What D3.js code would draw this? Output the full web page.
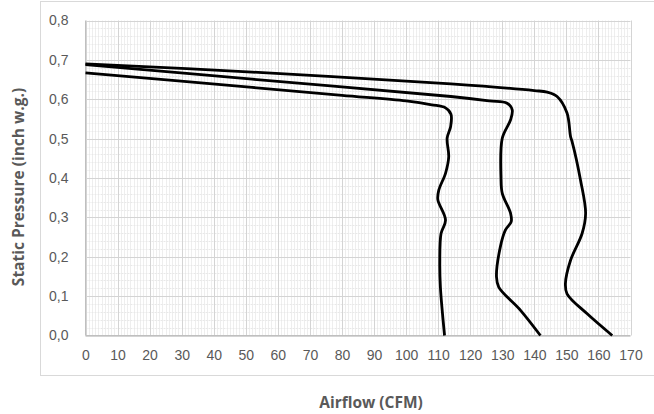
<!DOCTYPE html>
<meta charset="utf-8">
<head>
<script src="https://d3js.org/d3.v7.min.js"></script>
<style>
  body { margin: 0; background: #fff; }
  .tick text { font-family: "Liberation Sans", Arial, sans-serif; font-size: 14px; fill: #595959; }
  .title { font-family: "Open Sans", sans-serif; font-weight: bold; font-size: 15.5px; fill: #595959; }
</style>
</head>
<body>
<div class="viz"></div>
<script>
  // curve data: [airflow CFM, static pressure]
  var curveLow = [[0,0.667],[52,0.630],[80,0.610],[100,0.596],[108,0.586],[112.3,0.578],[114,0.562],[113.9,0.531],[112.8,0.501],[113.3,0.454],[112.3,0.412],[110.2,0.369],[109.9,0.345],[112.3,0.293],[110.9,0.259],[110.5,0.183],[110.7,0.123],[112,0]];
  var curveMid = [[0,0.688],[52,0.651],[114,0.607],[126,0.596],[131.5,0.590],[133.1,0.573],[132.6,0.548],[130,0.501],[129.6,0.40],[130,0.361],[132.6,0.310],[132.8,0.289],[131,0.268],[129.4,0.225],[128.2,0.149],[128.9,0.123],[135.7,0.064],[141.9,0]];
  var curveHigh = [[0,0.690],[52,0.669],[114,0.639],[140,0.622],[144,0.618],[147.1,0.607],[150.2,0.565],[151.3,0.505],[151.8,0.492],[154.4,0.395],[156,0.31],[154.9,0.259],[151.3,0.191],[149.7,0.132],[150.2,0.106],[156.5,0.055],[164.3,0]];
  var xTicks = d3.range(0, 171, 10);
  var yTicks = d3.range(0, 0.81, 0.1);

  var width = 654, height = 414;
  var x = d3.scaleLinear().domain([0, 170]).range([85.5, 630.5]);
  var y = d3.scaleLinear().domain([0, 0.8]).range([335.5, 20.5]);

  var svg = d3.select("div.viz").append("svg")
    .attr("width", width)
    .attr("height", height);

  // chart frame (runs past the right edge)
  svg.append("rect")
    .attr("x", 40.5).attr("y", 1.5)
    .attr("width", 620).attr("height", 374)
    .attr("fill", "none").attr("stroke", "#d9d9d9");

  // minor grid
  svg.append("g").selectAll("line")
    .data(d3.range(1, 170).filter(function(d) { return d % 10 != 0; }))
    .enter().append("line")
    .attr("x1", function(d) { return Math.round(x(d)) + 0.5; })
    .attr("x2", function(d) { return Math.round(x(d)) + 0.5; })
    .attr("y1", y(0.8)).attr("y2", y(0))
    .attr("stroke", "#eeeeee");
  svg.append("g").selectAll("line")
    .data(d3.range(1, 40).filter(function(d) { return d % 5 != 0; }))
    .enter().append("line")
    .attr("x1", x(0)).attr("x2", x(170))
    .attr("y1", function(d) { return Math.round(y(d * 0.02)) + 0.5; })
    .attr("y2", function(d) { return Math.round(y(d * 0.02)) + 0.5; })
    .attr("stroke", "#e8e8e8")
    .attr("stroke-dasharray", "2,1");

  // major grid
  svg.append("g").selectAll("line")
    .data(xTicks)
    .enter().append("line")
    .attr("x1", function(d) { return Math.round(x(d)) + 0.5; })
    .attr("x2", function(d) { return Math.round(x(d)) + 0.5; })
    .attr("y1", y(0.8)).attr("y2", y(0))
    .attr("stroke", "#d4d4d4");
  svg.append("g").selectAll("line")
    .data(yTicks)
    .enter().append("line")
    .attr("x1", x(0)).attr("x2", x(170))
    .attr("y1", function(d) { return Math.round(y(d)) + 0.5; })
    .attr("y2", function(d) { return Math.round(y(d)) + 0.5; })
    .attr("stroke", "#d4d4d4");

  // axes (labels only)
  var xAxis = svg.append("g")
    .attr("transform", "translate(0," + (y(0) + 8) + ")")
    .call(d3.axisBottom(x).tickValues(xTicks).tickSize(0).tickFormat(d3.format("d")));
  xAxis.select(".domain").remove();
  xAxis.selectAll("text").attr("dy", "0.95em");

  var yAxis = svg.append("g")
    .attr("transform", "translate(" + (x(0) - 14) + ",0)")
    .call(d3.axisLeft(y).tickValues(yTicks).tickSize(0)
      .tickFormat(function(d) { return d.toFixed(1).replace(".", ","); }));
  yAxis.select(".domain").remove();

  svg.append("line")
    .attr("x1", x(0)).attr("x2", x(170))
    .attr("y1", y(0)).attr("y2", y(0))
    .attr("stroke", "#bfbfbf");
  svg.append("line")
    .attr("x1", x(0)).attr("x2", x(0))
    .attr("y1", y(0.8)).attr("y2", y(0))
    .attr("stroke", "#bfbfbf");

  // curves
  var line = d3.line()
    .x(function(d) { return x(d[0]); })
    .y(function(d) { return y(d[1]); })
    .curve(d3.curveCatmullRom.alpha(0.5));

  [curveLow, curveMid, curveHigh].forEach(function(c) {
    svg.append("path")
      .attr("d", line(c))
      .attr("fill", "none")
      .attr("stroke", "#000")
      .attr("stroke-width", 2.8)
      .attr("stroke-linejoin", "round");
  });

  // titles
  svg.append("text")
    .attr("class", "title")
    .attr("x", 371).attr("y", 408)
    .attr("text-anchor", "middle")
    .text("Airflow (CFM)");

  svg.append("text")
    .attr("class", "title")
    .attr("transform", "translate(24,187) rotate(-90)")
    .attr("text-anchor", "middle")
    .text("Static Pressure (inch w.g.)");
</script>
</body>
